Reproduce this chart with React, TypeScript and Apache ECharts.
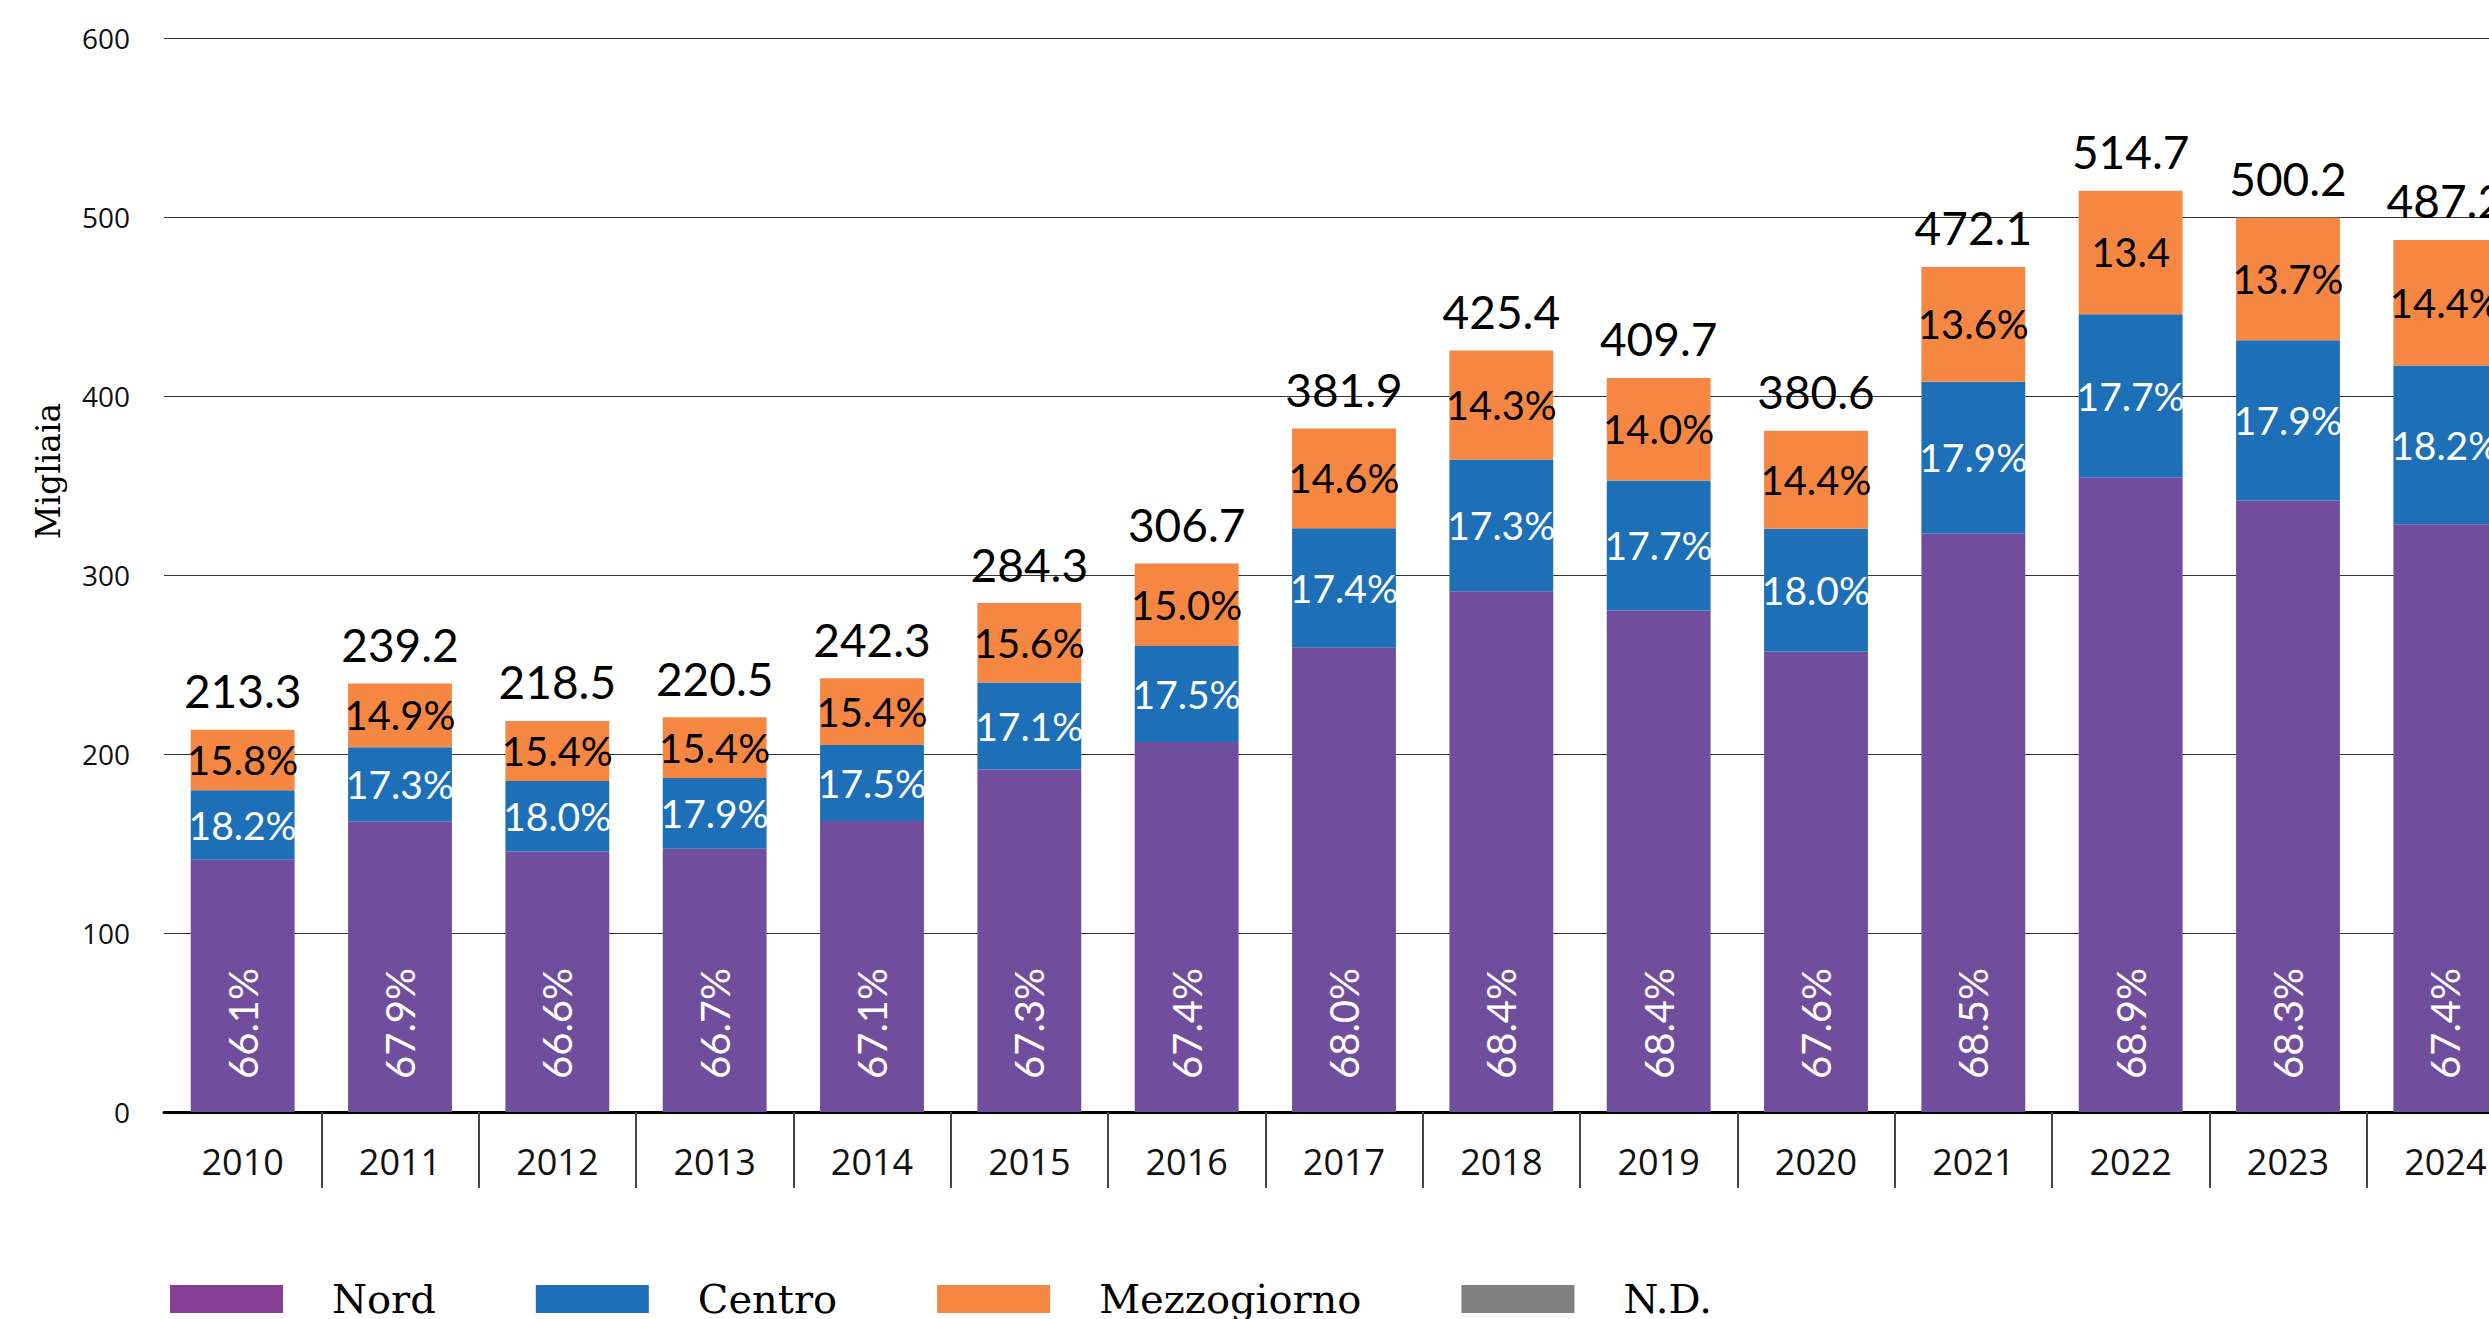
import React, { useEffect, useRef } from "react";
import * as echarts from "echarts";

const years = ["2010", "2011", "2012", "2013", "2014", "2015", "2016", "2017", "2018", "2019", "2020", "2021", "2022", "2023", "2024"];
const totals = [213.3, 239.2, 218.5, 220.5, 242.3, 284.3, 306.7, 381.9, 425.4, 409.7, 380.6, 472.1, 514.7, 500.2, 487.2];
const nordPct = [66.1, 67.9, 66.6, 66.7, 67.1, 67.3, 67.4, 68.0, 68.4, 68.4, 67.6, 68.5, 68.9, 68.3, 67.4];
const centroPct = [18.2, 17.3, 18.0, 17.9, 17.5, 17.1, 17.5, 17.4, 17.3, 17.7, 18.0, 17.9, 17.7, 17.9, 18.2];
const mezzPct = [15.8, 14.9, 15.4, 15.4, 15.4, 15.6, 15.0, 14.6, 14.3, 14.0, 14.4, 13.6, 13.4, 13.7, 14.4];
const ndValues = [0, 0, 0, 0, 0, 0, 0, 0, 0, 0, 0, 0, 0, 0, 0];
// label of 2022 Mezzogiorno is printed without "%"
const mezzNoPercent = ["2022"];

export default function App() {
  const ref = useRef<HTMLDivElement>(null);
  useEffect(() => {
    const chart = echarts.init(ref.current!, null, { renderer: "svg" });
    const nord = totals.map((t, i) => +(t * nordPct[i] / 100).toFixed(2));
    const centro = totals.map((t, i) => +(t * centroPct[i] / 100).toFixed(2));
    const mezz = totals.map((t, i) => +(t * mezzPct[i] / 100).toFixed(2));
    const pctFont = { fontFamily: "Lato", fontSize: 40 };
    chart.setOption({
      animation: false,
      backgroundColor: "#ffffff",
      grid: { left: 164, right: 0, top: 38, bottom: 207, containLabel: false },
      legend: {
        left: 165,
        top: 1274,
        itemWidth: 113,
        itemHeight: 28,
        itemGap: 100,
        icon: "rect",
        selectedMode: false,
        data: [
          { name: "Nord", itemStyle: { color: "#873F96" } },
          { name: "Centro" },
          { name: "Mezzogiorno" },
          { name: "N.D." },
        ],
        textStyle: { fontFamily: "DejaVu Serif", fontSize: 40, color: "#000", padding: [0, 0, 0, 44] },
      },
      xAxis: {
        type: "category",
        data: years,
        axisLine: { lineStyle: { color: "#000", width: 3 } },
        axisTick: {
          show: true,
          length: 76,
          interval: (i: number) => i !== 0,
          lineStyle: { color: "#444", width: 2 },
        },
        axisLabel: { margin: 31, fontFamily: "Open Sans", fontSize: 36, color: "#111" },
      },
      yAxis: {
        type: "value",
        min: 0,
        max: 600,
        interval: 100,
        axisLine: { show: false },
        axisTick: { show: false },
        axisLabel: { margin: 34, fontFamily: "Open Sans", fontSize: 28, color: "#111" },
        splitLine: { lineStyle: { color: "#333", width: 1 } },
      },
      graphic: [
        {
          type: "text",
          x: 48,
          y: 471,
          rotation: Math.PI / 2,
          style: {
            text: "Migliaia",
            fontFamily: "DejaVu Serif",
            fontSize: 33,
            fill: "#000",
            align: "center",
            verticalAlign: "middle",
          },
        },
      ],
      series: [
        {
          name: "Nord",
          type: "bar",
          stack: "tot",
          barWidth: "66%",
          data: nord,
          itemStyle: { color: "#714E9D" },
          label: {
            show: true,
            position: "insideBottom",
            rotate: 90,
            align: "left",
            verticalAlign: "middle",
            distance: 33,
            color: "#fff",
            ...pctFont,
            formatter: (p: any) => nordPct[p.dataIndex].toFixed(1) + "%",
          },
        },
        {
          name: "Centro",
          type: "bar",
          stack: "tot",
          data: centro,
          itemStyle: { color: "#1D70B7" },
          label: {
            show: true,
            position: "inside",
            color: "#fff",
            fontFamily: "Lato",
            fontSize: 39,
            formatter: (p: any) => centroPct[p.dataIndex].toFixed(1) + "%",
          },
        },
        {
          name: "Mezzogiorno",
          type: "bar",
          stack: "tot",
          data: mezz,
          itemStyle: { color: "#F68742" },
          label: {
            show: true,
            position: "inside",
            color: "#000",
            ...pctFont,
            formatter: (p: any) =>
              mezzPct[p.dataIndex].toFixed(1) + (mezzNoPercent.includes(years[p.dataIndex]) ? "" : "%"),
          },
        },
        {
          name: "N.D.",
          type: "bar",
          stack: "tot",
          data: ndValues,
          itemStyle: { color: "#7F7F7F" },
          label: {
            show: true,
            position: "top",
            distance: 16,
            color: "#000",
            fontFamily: "Lato",
            fontSize: 46,
            formatter: (p: any) => totals[p.dataIndex].toFixed(1),
          },
        },
      ],
    });
    return () => chart.dispose();
  }, []);
  return (
    <div style={{ position: "absolute", left: 0, top: 0, width: 2489, height: 1319, overflow: "hidden", background: "#fff" }}>
      <div ref={ref} style={{ position: "absolute", left: 0, top: 0, width: 2524, height: 1319 }} />
    </div>
  );
}
